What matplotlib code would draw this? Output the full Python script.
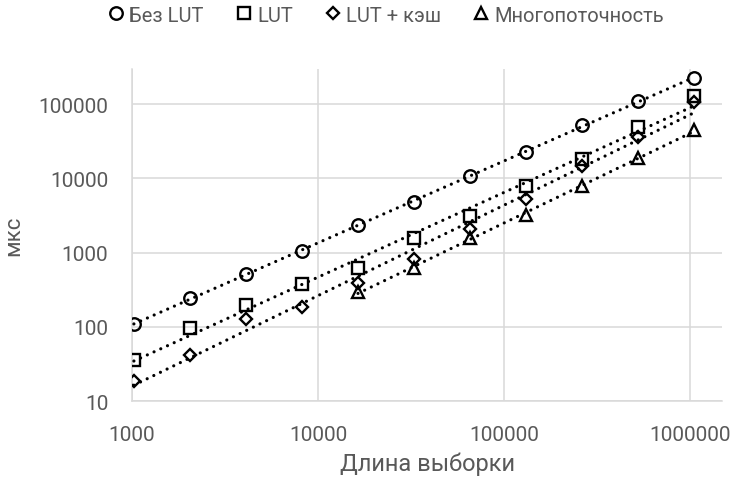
import numpy as np
import matplotlib.pyplot as plt
from matplotlib.ticker import FixedLocator, FixedFormatter, NullLocator

plt.rcParams['font.family'] = ['Roboto', 'DejaVu Sans']

# длина выборки (2^10 .. 2^20)
sizes = [1024, 2048, 4096, 8192, 16384, 32768, 65536, 131072, 262144, 524288, 1048576]
multi_sizes = [16384, 32768, 65536, 131072, 262144, 524288, 1048576]

# время, мкс
bez_lut = [108, 246, 521, 1050, 2350, 4800, 10600, 22800, 52100, 111000, 222000]
lut = [35.5, 97, 200, 383, 622, 1560, 3080, 7950, 18200, 48500, 127000]
lut_cache = [18.5, 41.5, 127, 186, 394, 830, 2070, 5250, 14500, 35500, 107000]
multi = [296, 622, 1590, 3250, 7950, 18600, 44300]

x_ticks = [1000, 10000, 100000, 1000000]
y_ticks = [10, 100, 1000, 10000, 100000]

series = [
    ('Без LUT', sizes, bez_lut, 'o', 9.0),
    ('LUT', sizes, lut, 's', 9.0),
    ('LUT + кэш', sizes, lut_cache, 'D', 6.3),
    ('Многопоточность', multi_sizes, multi, '^', 8.8),
]

gray = '#595959'
grid = '#d9d9d9'

fig = plt.figure(figsize=(7.34, 4.85), dpi=100)
ax = fig.add_axes([0.1798, 0.1705, 0.8039, 0.6852])

handles = []
for name, xs, ys, m, ms in series:
    lx, ly = np.log10(xs), np.log10(ys)
    k, b = np.polyfit(lx, ly, 1)
    xt = np.array([xs[0], xs[-1]], dtype=float)
    yt = 10 ** (k * np.log10(xt) + b)
    ax.plot(xt, yt, color='black', lw=2.3, linestyle=(0, (0.01, 2.3)),
            dash_capstyle='round', zorder=3)
    h, = ax.plot(xs, ys, linestyle='none', marker=m, markersize=ms,
                 markerfacecolor='none', markeredgecolor='black',
                 markeredgewidth=1.7, zorder=4, label=name)
    handles.append(h)

ax.set_xscale('log')
ax.set_yscale('log')
ax.set_xlim(1000, 1.48e6)
ax.set_ylim(10, 2.96e5)

ax.xaxis.set_major_locator(FixedLocator(x_ticks))
ax.xaxis.set_major_formatter(FixedFormatter([str(v) for v in x_ticks]))
ax.yaxis.set_major_locator(FixedLocator(y_ticks))
ax.yaxis.set_major_formatter(FixedFormatter([str(v) for v in y_ticks]))
ax.xaxis.set_minor_locator(NullLocator())
ax.yaxis.set_minor_locator(NullLocator())

ax.tick_params(axis='x', length=0, pad=17, labelsize=15, labelcolor=gray)
ax.tick_params(axis='y', length=0, pad=17, labelsize=15, labelcolor=gray)
ax.grid(True, color=grid, lw=1.1)
ax.set_axisbelow(True)
for s in ['top', 'right']:
    ax.spines[s].set_visible(False)
for s in ['left', 'bottom']:
    ax.spines[s].set_color(grid)
    ax.spines[s].set_linewidth(1.1)

fig.text(14 / 734, 0.513, 'мкс', rotation=90, ha='center', va='center',
         fontsize=16, color=gray)
fig.text(428 / 734, 1 - 464 / 485, 'Длина выборки', ha='center', va='center',
         fontsize=17, color=gray)

leg = fig.legend(handles=handles, loc='center', ncol=4,
                 bbox_to_anchor=(385 / 734, 1 - 16 / 485), frameon=False,
                 fontsize=14.5, handletextpad=0.15, columnspacing=1.5,
                 handlelength=1.0, markerscale=1.0)
for t in leg.get_texts():
    t.set_color(gray)

fig.savefig('out.png', dpi=100)
